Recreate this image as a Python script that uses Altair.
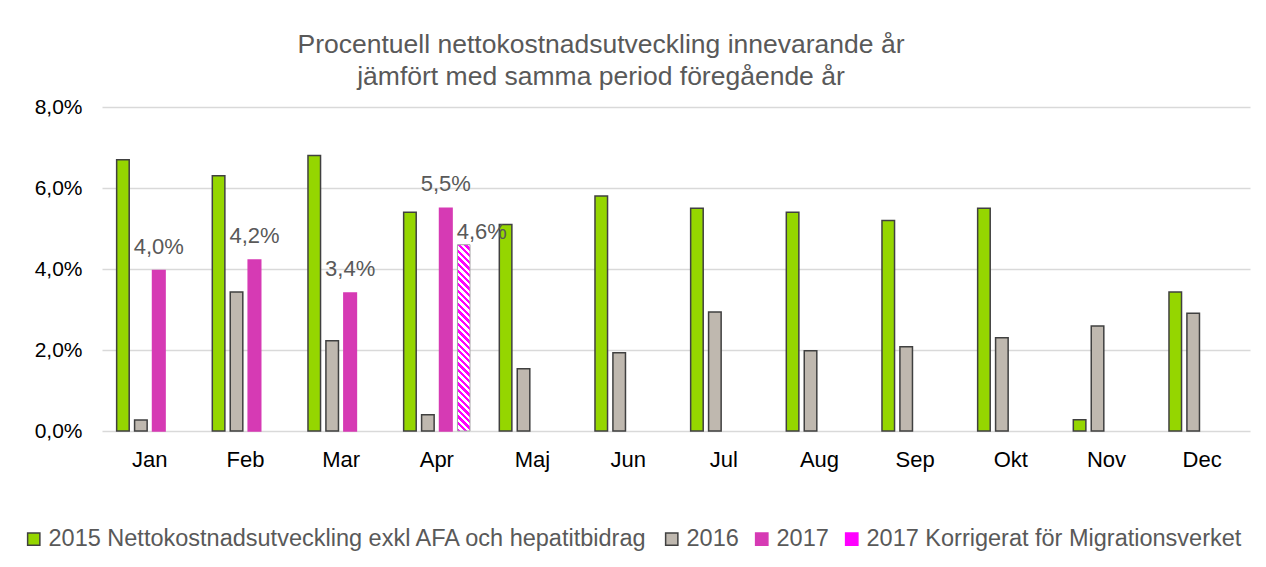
import altair as alt
import pandas as pd

months = ["Jan", "Feb", "Mar", "Apr", "Maj", "Jun", "Jul", "Aug", "Sep", "Okt", "Nov", "Dec"]
series_names = [
    "2015 Nettokostnadsutveckling exkl AFA och hepatitbidrag",
    "2016",
    "2017",
    "2017 Korrigerat för Migrationsverket",
]
v2015 = [6.7, 6.3, 6.8, 5.4, 5.1, 5.8, 5.5, 5.4, 5.2, 5.5, 0.28, 3.43]
v2016 = [0.27, 3.43, 2.23, 0.40, 1.54, 1.93, 2.94, 1.98, 2.08, 2.30, 2.59, 2.91]
v2017 = [3.96, 4.22, 3.41, 5.5, None, None, None, None, None, None, None, None]
v2017k = [None, None, None, 4.6, None, None, None, None, None, None, None, None]

fill_colors = ["#95D600", "#BFB8AF", "#D63AB4", "#FF00FF"]
stroke_colors = ["#404040", "#404040", "#D63AB4", "#FF00FF"]

rows = []
for name, vals in zip(series_names, [v2015, v2016, v2017, v2017k]):
    for m, v in zip(months, vals):
        if v is not None:
            rows.append({"month": m, "series": name, "value": v})
df = pd.DataFrame(rows)

W, H = 1148, 324
YMAX = 8.0
FONT = "Liberation Sans"

x_enc = alt.X("month:N", sort=months, scale=alt.Scale(paddingInner=0.25, paddingOuter=0.125),
              axis=alt.Axis(title=None, labelAngle=0, domain=False, ticks=False, labelPadding=18,
                            labelFontSize=22, labelColor="#000000", labelFont=FONT, grid=False))
xo_enc = alt.XOffset("series:N", sort=series_names,
                     scale=alt.Scale(domain=series_names, paddingInner=0.3, paddingOuter=0.15))
y_enc = alt.Y("value:Q", scale=alt.Scale(domain=[0, YMAX], nice=False),
              axis=alt.Axis(title=None, values=[0, 2, 4, 6, 8], domain=False, ticks=False,
                            labelPadding=20, labelFontSize=21, labelColor="#000000", labelFont=FONT,
                            gridColor="#D9D9D9", gridWidth=1.5,
                            labelExpr="replace(format(datum.value/100, '.1%'), '.', ',')"))

legend_props = dict(title=None, orient="none", direction="horizontal", legendX=-80, legendY=420,
                    labelFontSize=23.5, labelFont=FONT, labelColor="#595959", symbolType="square",
                    symbolSize=150, symbolStrokeWidth=1.5, labelOffset=3, columnPadding=11,
                    labelLimit=0)

base = alt.Chart(df)

bars = base.transform_filter(
    alt.datum.series != series_names[3]
).mark_bar(strokeWidth=1.5).encode(
    x=x_enc,
    xOffset=xo_enc,
    y=y_enc,
    color=alt.Color("series:N", scale=alt.Scale(domain=series_names, range=fill_colors),
                    legend=alt.Legend(**legend_props)),
    stroke=alt.Stroke("series:N", scale=alt.Scale(domain=series_names, range=stroke_colors),
                      legend=alt.Legend(**legend_props)),
)

# hatched fill for the corrected 2017 value (diagonal stripes via hard-stop gradient)
step = W / 12
bar_w = step * 0.75 / 4 * 0.7
bar_h = v2017k[3] / YMAX * H
k = (bar_w + bar_h) / (bar_w ** 2 + bar_h ** 2)
n_stripes = int((bar_w + bar_h) / 6.5)
stops = []
for i in range(n_stripes):
    a = i / n_stripes
    b = (i + 0.5) / n_stripes
    c = (i + 1) / n_stripes
    stops += [alt.GradientStop(offset=a, color="#FF00FF"), alt.GradientStop(offset=b, color="#FF00FF"),
              alt.GradientStop(offset=b, color="#FFFFFF"), alt.GradientStop(offset=c, color="#FFFFFF")]
hatch = alt.LinearGradient(gradient="linear", stops=stops, x1=0, y1=1, x2=bar_w * k, y2=1 - bar_h * k)

hatched = base.transform_filter(
    alt.datum.series == series_names[3]
).mark_bar(fill=hatch, stroke="#A6A6A6", strokeWidth=1).encode(
    x=x_enc, xOffset=xo_enc, y=y_enc,
)

label_expr = "replace(format(datum.value/100, '.1%'), '.', ',')"
labels17 = base.transform_filter(
    alt.datum.series == series_names[2]
).transform_calculate(lbl=label_expr).mark_text(
    dy=-17, baseline="alphabetic", fontSize=22, font=FONT, color="#595959"
).encode(x=x_enc, xOffset=xo_enc, y=y_enc, text="lbl:N")

labels17k = base.transform_filter(
    alt.datum.series == series_names[3]
).transform_calculate(lbl=label_expr).mark_text(
    dx=18, dy=-6, baseline="alphabetic", fontSize=22, font=FONT, color="#595959"
).encode(x=x_enc, xOffset=xo_enc, y=y_enc, text="lbl:N")

chart = alt.layer(bars, hatched, labels17, labels17k).properties(
    width=W, height=H,
    title=alt.TitleParams(
        text=["Procentuell nettokostnadsutveckling innevarande år",
              "jämfört med samma period föregående år"],
        anchor="middle", dx=-75, fontSize=26.5, font=FONT, fontWeight="normal",
        color="#595959", lineHeight=32, offset=6,
    ),
    padding={"left": 14, "top": 23, "right": 2, "bottom": 2},
    background="white",
).configure_view(stroke=None)

chart.save("out.html", embed_options={"renderer": "svg", "actions": False})
